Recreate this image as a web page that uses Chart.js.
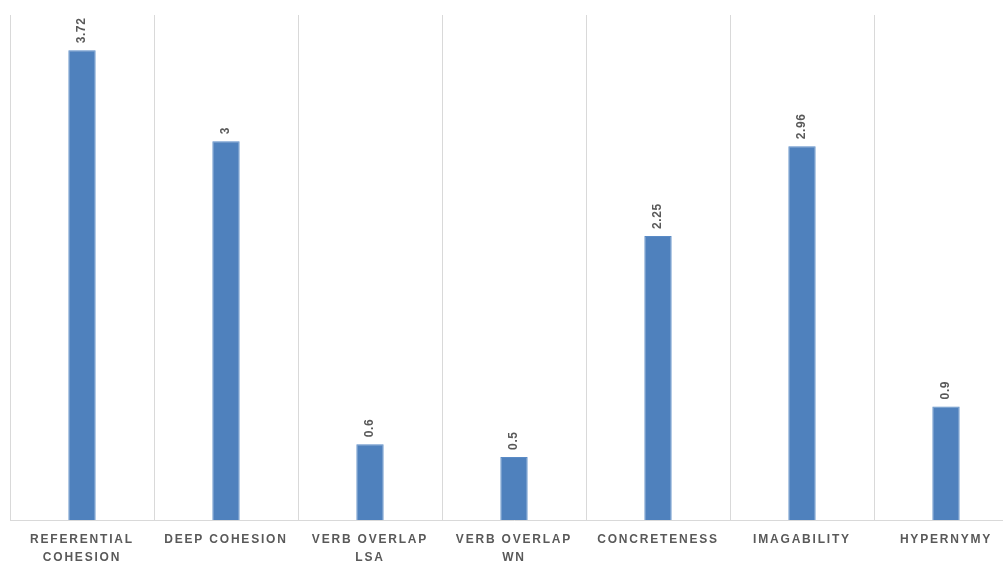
<!DOCTYPE html>
<html>
<head>
<meta charset="utf-8">
<script src="https://cdn.jsdelivr.net/npm/chart.js@4"></script>
<style>
  html, body { margin: 0; padding: 0; overflow: hidden; background: #fff; }
  #wrap { width: 1018px; height: 578px; }
</style>
</head>
<body>
<div id="wrap"><canvas id="chart"></canvas></div>
<script>
// chart data
const categories = [
    ["REFERENTIAL", "COHESION"],
    "DEEP COHESION",
    ["VERB OVERLAP", "LSA"],
    ["VERB OVERLAP", "WN"],
    "CONCRETENESS",
    "IMAGABILITY",
    "HYPERNYMY"
];
const values = [3.72, 3, 0.6, 0.5, 2.25, 2.96, 0.9];
const yRange = [0, 4];

const FONT = "'Liberation Sans', Arial, sans-serif";
const GREY = "#595959";

// letter spacing for all chart text
const spacingPlugin = {
    id: "spacing",
    beforeDraw(chart) { chart.ctx.letterSpacing = "1.8px"; }
};

// rotated value labels above each bar
const valueLabels = {
    id: "valueLabels",
    afterDatasetsDraw(chart) {
        const ctx = chart.ctx;
        const meta = chart.getDatasetMeta(0);
        ctx.save();
        ctx.letterSpacing = "0.6px";
        ctx.font = "bold 12px " + FONT;
        ctx.fillStyle = GREY;
        ctx.textAlign = "left";
        ctx.textBaseline = "middle";
        meta.data.forEach((bar, i) => {
            ctx.save();
            ctx.translate(bar.x, bar.y - 7);
            ctx.rotate(-Math.PI / 2);
            ctx.fillText(String(values[i]), 0, 0);
            ctx.restore();
        });
        ctx.restore();
    }
};

new Chart(document.getElementById("chart"), {
    type: "bar",
    data: {
        labels: categories,
        datasets: [{
            data: values,
            backgroundColor: "#4F81BD",
            borderColor: "#5A8BC6",
            borderWidth: 1,
            barPercentage: 0.19,
            categoryPercentage: 1.0
        }]
    },
    options: {
        responsive: true,
        maintainAspectRatio: false,
        animation: false,
        layout: { padding: { top: 15, left: 10, right: 0, bottom: 0 } },
        plugins: {
            legend: { display: false },
            tooltip: { enabled: false }
        },
        scales: {
            y: {
                display: false,
                min: yRange[0],
                max: yRange[1]
            },
            x: {
                offset: true,
                grid: {
                    offset: true,
                    color: "#d9d9d9",
                    lineWidth: 1,
                    drawTicks: false
                },
                border: { color: "#d9d9d9", width: 1 },
                ticks: {
                    color: GREY,
                    padding: 11,
                    maxRotation: 0,
                    autoSkip: false,
                    font: { family: FONT, size: 12, weight: "bold", lineHeight: 1.5 }
                }
            }
        }
    },
    plugins: [spacingPlugin, valueLabels]
});
</script>
</body>
</html>
